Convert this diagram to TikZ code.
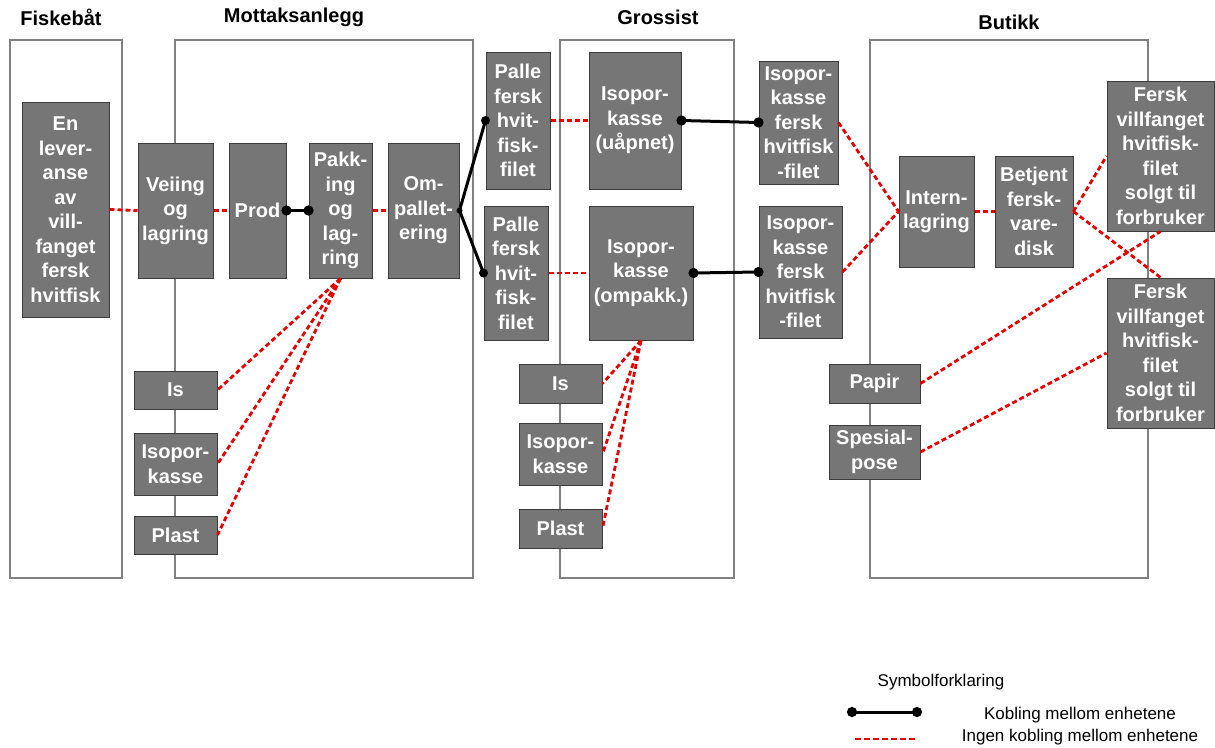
\documentclass[tikz,border=0pt]{standalone}
\usepackage{fontspec}
\setmainfont{Liberation Sans}
\usetikzlibrary{arrows.meta}
\definecolor{boxfill}{RGB}{118,118,118}
\definecolor{boxline}{RGB}{60,60,60}
\definecolor{frameline}{RGB}{128,128,128}
\definecolor{linkred}{RGB}{230,0,0}
\tikzset{
 gbox/.style={draw=boxline, fill=boxfill, line width=1pt, text=white, font=\fontsize{20}{24.5}\selectfont\bfseries, align=center, inner sep=0pt},
 frame/.style={draw=frameline, line width=1.3pt, inner sep=0pt},
 title/.style={font=\fontsize{20}{24}\selectfont\bfseries},
 legendtext/.style={font=\fontsize{17}{20}\selectfont},
 nolink/.style={draw=linkred, line width=2.8pt, dash pattern=on 5pt off 3pt},
 link/.style={draw=black, line width=3pt, {Circle[length=10pt]}-{Circle[length=10pt]}, shorten <=-5pt, shorten >=-5pt},
 plainlink/.style={draw=black, line width=3pt},
}
\newcommand\gb[6]{\node[gbox, minimum width={#4pt-#2pt}, minimum height={#5pt-#3pt}] (#1) at ({(#2+#4)/2},{(#3+#5)/2}) {#6};}
\newcommand\fr[5]{\node[frame, minimum width={#4pt-#2pt}, minimum height={#5pt-#3pt}] (#1) at ({(#2+#4)/2},{(#3+#5)/2}) {};}
\begin{document}
\begin{tikzpicture}[x=1pt,y=-1pt]
\useasboundingbox (0,0) rectangle (1215,747);
% containers
\fr{fisk}{10}{40}{122}{578}
\fr{mott}{175}{40}{473}{578}
\fr{gros}{560}{40}{734}{578}
\fr{buti}{870}{40}{1148}{578}
% titles
\node[title] (tfisk) at (61,17) {Fiskebåt};
\node[title] (tmott) at (294,17) {Mottaksanlegg};
\node[title] (tgros) at (658,17) {Grossist};
\node[title] (tbuti) at (1009,22) {Butikk};
% boxes
\gb{en}{22}{102}{109}{317}{En\\lever-\\anse\\av\\vill-\\fanget\\fersk\\hvitfisk}
\gb{veiing}{138}{143}{213}{278}{Veiing\\og\\lagring}
\gb{prod}{229}{143}{286}{278}{Prod}
\gb{pakk}{309}{143}{372}{278}{Pakk-\\ing\\og\\lag-\\ring}
\gb{omp}{388}{143}{459}{278}{Om-\\pallet-\\ering}
\gb{isa}{134}{371}{217}{409}{Is}
\gb{isoa}{134}{433}{217}{495}{Isopor-\\kasse}
\gb{plasta}{134}{516}{217}{554}{Plast}
\gb{palle1}{486}{52}{550}{189}{Palle\\fersk\\hvit-\\fisk-\\filet}
\gb{palle2}{484}{206}{548}{340}{Palle\\fersk\\hvit-\\fisk-\\filet}
\gb{iso1}{589}{52}{681}{189}{Isopor-\\kasse\\(uåpnet)}
\gb{iso2}{589}{206}{693}{340}{Isopor-\\kasse\\(ompakk.)}
\gb{isb}{519}{364}{602}{403}{Is}
\gb{isob}{519}{423}{602}{485}{Isopor-\\kasse}
\gb{plastb}{519}{509}{602}{548}{Plast}
\gb{ik1}{759}{61}{838}{184}{Isopor-\\kasse\\fersk\\hvitfisk\\-filet}
\gb{ik2}{759}{206}{842}{338}{Isopor-\\kasse\\fersk\\hvitfisk\\-filet}
\gb{intern}{899}{156}{974}{267}{Intern-\\lagring}
\gb{betj}{995}{156}{1073}{267}{Betjent\\fersk-\\vare-\\disk}
\gb{fersk1}{1107}{81}{1214}{231}{Fersk\\villfanget\\hvitfisk-\\filet\\solgt til\\forbruker}
\gb{fersk2}{1107}{278}{1214}{428}{Fersk\\villfanget\\hvitfisk-\\filet\\solgt til\\forbruker}
\gb{papir}{829}{364}{920}{403}{Papir}
\gb{spes}{829}{425}{920}{479}{Spesial-\\pose}
% no-link connectors
\draw[nolink] (en.east) -- (veiing.west);
\draw[nolink] (veiing.east) -- (prod.west);
\draw[nolink] (pakk.east) -- (omp.west);
\draw[nolink] (pakk.south) -- (isa.east);
\draw[nolink] (pakk.south) -- (isoa.east);
\draw[nolink] (pakk.south) -- (plasta.east);
\draw[nolink] (palle1.east) -- (iso1.west);
\draw[nolink] (palle2.east) -- (iso2.west);
\draw[nolink] (iso2.south) -- (isb.east);
\draw[nolink] (iso2.south) -- (isob.east);
\draw[nolink] (iso2.south) -- (plastb.east);
\draw[nolink] (ik1.east) -- (intern.west);
\draw[nolink] (ik2.east) -- (intern.west);
\draw[nolink] (intern.east) -- (betj.west);
\draw[nolink] (betj.east) -- (fersk1.west);
\draw[nolink] (betj.east) -- (fersk2.north);
\draw[nolink] (papir.east) -- (fersk1.south);
\draw[nolink] (spes.east) -- (fersk2.west);
% link connectors
\draw[link] (prod.east) -- (pakk.west);
\draw[plainlink] (omp.east) -- (palle1.west);
\draw[plainlink] (omp.east) -- (palle2.west);
\fill (omp.east) circle (3pt);
\fill (palle1.west) circle (4.5pt);
\fill (palle2.west) circle (4.5pt);
\draw[link] (iso1.east) -- (ik1.west);
\draw[link] (iso2.east) -- (ik2.west);
% legend
\node[legendtext] (lgtitle) at (941,682) {Symbolforklaring};
\coordinate (l1a) at (852,712);
\coordinate (l1b) at (917,712);
\coordinate (l2a) at (855,739);
\coordinate (l2b) at (917,739);
\draw[link] (l1a) -- (l1b);
\draw[nolink, dash pattern=on 6pt off 3pt] (l2a) -- (l2b);
\node[legendtext] (lg1) at (1080,715) {Kobling mellom enhetene};
\node[legendtext] (lg2) at (1080,737) {Ingen kobling mellom enhetene};
\end{tikzpicture}
\end{document}
